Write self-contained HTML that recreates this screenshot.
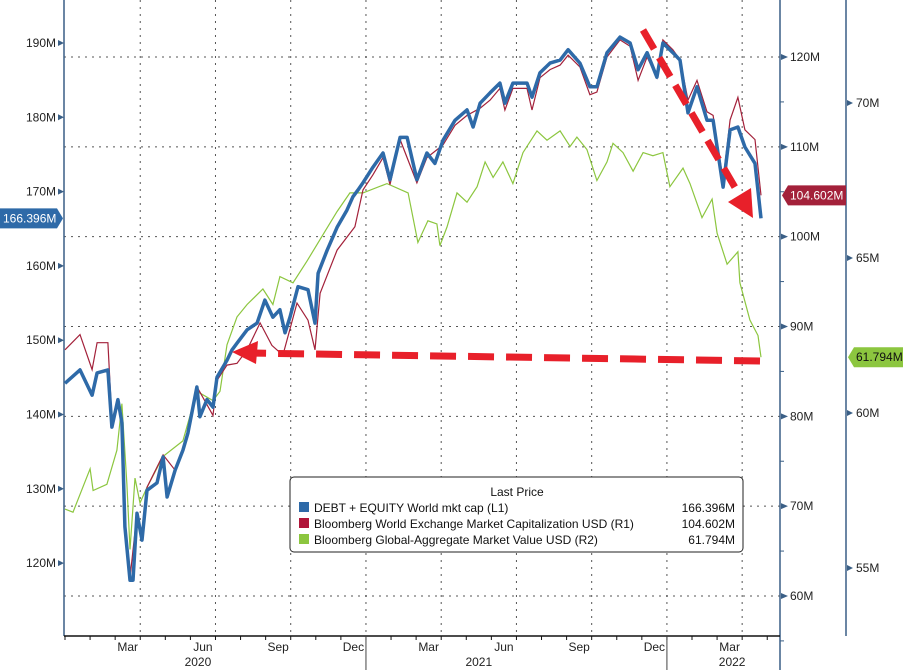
<!DOCTYPE html>
<html><head><meta charset="utf-8">
<style>
html,body{margin:0;padding:0;background:#fff;}
svg{display:block;font-family:"Liberation Sans",sans-serif;}
</style></head>
<body>
<svg id="chart" width="903" height="670" viewBox="0 0 903 670" xmlns="http://www.w3.org/2000/svg">
<g id="grid"></g>
<g id="axes"></g>
<g id="series"></g>
<g id="annot">
  <line x1="760" y1="361" x2="250" y2="353" stroke="#e8202a" stroke-width="7" stroke-dasharray="26,12"/>
  <polygon points="232,352 258,341 256,364" fill="#e8202a"/>
  <line x1="643" y1="30" x2="740" y2="196" stroke="#e8202a" stroke-width="7" stroke-dasharray="22,10"/>
  <polygon points="753,218 728,202 751,188" fill="#e8202a"/>
</g>
<g id="legend">
  <rect x="290" y="477" width="453" height="75" rx="4" fill="#fff" stroke="#222" stroke-width="1"/>
  <text x="517" y="496" font-size="12" text-anchor="middle" fill="#111">Last Price</text>
  <rect x="299" y="502" width="10" height="10" fill="#2e6aa8"/>
  <text x="314" y="512" font-size="12" fill="#111">DEBT + EQUITY World mkt cap  (L1)</text>
  <text x="735" y="512" font-size="12" text-anchor="end" fill="#111">166.396M</text>
  <rect x="299" y="518" width="10" height="10" fill="#b0163a"/>
  <text x="314" y="528" font-size="12" fill="#111">Bloomberg World Exchange Market Capitalization USD  (R1)</text>
  <text x="735" y="528" font-size="12" text-anchor="end" fill="#111">104.602M</text>
  <rect x="299" y="534" width="10" height="10" fill="#8cc63f"/>
  <text x="314" y="544" font-size="12" fill="#111">Bloomberg Global-Aggregate Market Value USD  (R2)</text>
  <text x="735" y="544" font-size="12" text-anchor="end" fill="#111">61.794M</text>
</g>
<g id="tags"></g>
</svg>
<script>
// months since Jan 1 2020
const blueM = [0,0.6,1.08,1.28,1.71,1.87,2.11,2.27,2.39,2.59,2.71,2.87,3.07,3.27,3.67,3.91,4.07,4.39,4.7,4.9,5.26,5.38,5.66,5.9,6.06,6.46,6.66,6.86,7.26,7.66,7.97,8.29,8.57,8.77,8.97,9.29,9.69,9.97,10.09,10.45,10.85,11.24,11.48,11.68,11.88,12.28,12.68,12.96,13.36,13.64,14.03,14.43,14.75,15.07,15.55,16.03,16.27,16.55,16.95,17.34,17.54,17.86,18.42,18.62,18.94,19.34,19.74,20.06,20.53,20.93,21.21,21.61,22.13,22.53,22.85,23.21,23.6,23.84,24.24,24.52,24.84,25.2,25.6,25.84,26.24,26.52,26.83,27.11,27.51,27.75];
const blueV = [144.2,146.0,142.6,145.6,146.0,138.3,142.0,138.9,124.9,117.7,117.7,126.7,123.1,129.8,130.8,134.3,128.9,132.5,135.2,137.5,143.7,139.7,142.0,141.0,145.0,147.3,148.7,149.6,151.4,152.3,155.4,153.1,154.1,151.0,153.1,157.2,156.8,152.3,159.0,162.1,165.2,167.5,169.3,170.2,171.2,173.3,175.2,171.6,177.3,177.3,171.6,175.2,173.8,176.9,179.6,181.0,178.7,181.9,183.3,184.6,181.9,184.6,184.6,182.7,186.0,187.3,187.7,189.1,187.3,184.1,184.1,188.7,190.8,190.0,186.4,188.7,185.4,190.0,188.7,187.7,180.6,184.1,179.6,179.6,170.6,178.3,178.7,176.0,173.8,166.4];
const redM = [0,0.6,1.08,1.28,1.71,1.87,2.11,2.27,2.39,2.59,2.87,3.07,3.27,3.91,4.39,4.9,5.26,5.9,6.06,6.46,6.86,7.26,7.78,8.25,8.69,9.25,9.69,9.97,10.17,10.85,11.56,11.88,12.28,12.68,12.96,13.36,14.03,14.43,15.07,15.55,16.03,16.55,16.95,17.34,17.54,17.86,18.42,18.62,18.94,19.34,19.74,20.06,20.53,20.93,21.21,21.61,22.13,22.53,22.85,23.21,23.6,23.84,24.24,24.52,24.84,25.2,25.6,25.84,26.24,26.52,26.83,27.11,27.51,27.75];
const redV = [87.4,89.1,85.2,88.2,88.2,79.6,81.8,79.3,67.7,62.0,69.2,66.2,72.1,75.7,74.0,78.1,83.3,80.1,84.0,85.7,85.9,87.4,90.4,87.9,86.8,92.6,90.7,87.4,93.7,98.5,101.1,105.2,106.9,108.8,105.8,110.8,106.0,108.8,110.2,112.4,113.5,114.3,115.2,116.5,114.1,116.5,116.5,114.1,117.7,118.6,119.1,120.2,118.9,115.8,116.1,120.0,121.9,121.2,117.4,120.0,117.7,121.9,120.8,119.7,115.2,117.4,113.9,113.5,106.3,113.0,115.5,111.9,110.8,104.6];
const greenM = [0,0.32,1.0,1.12,1.67,2.07,2.27,2.47,2.59,2.79,2.99,3.27,3.91,4.7,5.26,5.9,6.18,6.46,6.86,7.26,7.89,8.29,8.57,9.09,9.65,10.17,10.85,11.36,11.88,12.84,13.68,14.07,14.47,14.83,14.95,15.23,15.63,16.03,16.43,16.75,17.07,17.46,17.86,18.26,18.82,19.22,19.74,20.14,20.41,20.81,21.21,21.61,21.85,22.25,22.65,23.05,23.44,23.84,24.12,24.64,24.92,25.4,25.8,26.0,26.4,26.83,26.91,27.31,27.63,27.75];
const greenV = [56.9,56.8,58.2,57.5,57.7,58.8,60.3,57.7,55.6,57.9,57.1,57.6,58.6,59.1,60.7,60.4,60.7,62.2,63.1,63.5,64.0,63.5,64.4,64.2,64.9,65.6,66.5,67.1,67.1,67.4,67.1,65.5,66.2,66.1,65.4,66.0,67.1,66.8,67.3,68.1,67.6,68.1,67.4,68.4,69.1,68.8,69.1,68.6,68.9,68.5,67.5,68.1,68.7,68.4,67.8,68.4,68.3,68.4,67.3,67.9,67.4,66.3,66.9,65.8,64.8,65.2,64.2,63.0,62.5,61.8];
const leftTicks = [190,180,170,160,150,140,130,120];
const r1Ticks = [120,110,100,90,80,70,60];
const r2Ticks = [70,65,60,55];
const monthLabels = ["Mar","Jun","Sep","Dec","Mar","Jun","Sep","Dec","Mar"];
const monthLabelPos = [2.5,5.5,8.5,11.5,14.5,17.5,20.5,23.5,26.5];
const yearLabels = ["2020","2021","2022"];
const yearLabelPos = [5.3,16.5,26.6];

const NS="http://www.w3.org/2000/svg";
const X0=65, PXM=25.08, XL=64, XR=780, YB=636;
const xS = m => X0 + m*PXM;
const yL = v => 43 + (190-v)*7.43;
const yR1 = v => 57 + (120-v)*8.983;
const yR2 = v => 103 + (70-v)*31;
function mk(tag, attrs, parent){const e=document.createElementNS(NS,tag);for(const k in attrs)e.setAttribute(k,attrs[k]);parent.appendChild(e);return e;}
const grid=document.getElementById('grid'), axes=document.getElementById('axes'), series=document.getElementById('series'), tags=document.getElementById('tags');

// horizontal grid (R1 ticks)
r1Ticks.forEach(v=>{const l=mk('line',{x1:XL,x2:XR,y1:yR1(v),y2:yR1(v),stroke:'#555','stroke-width':1,'stroke-dasharray':'2,5'},grid);

});
// vertical grid quarterly
for(let q=1;q<=9;q++){const m=q*3;const l=mk('line',{x1:xS(m),x2:xS(m),y1:0,y2:YB,stroke:'#555','stroke-width':1,'stroke-dasharray':'2,5'},grid);

}

// axes lines
const axisCol='#3a5f86';
let a=mk('line',{x1:XL,x2:XL,y1:0,y2:YB,stroke:axisCol,'stroke-width':1.5},axes);


a=mk('line',{x1:XR,x2:XR,y1:0,y2:670,stroke:axisCol,'stroke-width':1.5},axes);


a=mk('line',{x1:846,x2:846,y1:0,y2:636,stroke:axisCol,'stroke-width':1.5},axes);


a=mk('line',{x1:XL,x2:XR,y1:YB,y2:YB,stroke:'#111','stroke-width':1.5},axes);



leftTicks.forEach(v=>{const y=yL(v);
const p=mk('polygon',{points:`${XL},${y} ${XL-6},${y-3} ${XL-6},${y+3}`,fill:axisCol},axes);


const t=mk('text',{x:XL-8,y:y+4,'font-size':12,'text-anchor':'end',fill:'#222'},axes);t.textContent=v+'M';

});
r1Ticks.forEach(v=>{const y=yR1(v);
const p=mk('polygon',{points:`${XR+8},${y} ${XR+1},${y-3} ${XR+1},${y+3}`,fill:axisCol},axes);


const mt=mk('line',{x1:XR,x2:XR+4,y1:yR1(v-5),y2:yR1(v-5),stroke:axisCol},axes);


const t=mk('text',{x:XR+10,y:y+4,'font-size':12,fill:'#222'},axes);t.textContent=v+'M';

});
r2Ticks.forEach(v=>{const y=yR2(v);
const p=mk('polygon',{points:`${853},${y} ${847},${y-3} ${847},${y+3}`,fill:axisCol},axes);


const t=mk('text',{x:856,y:y+4,'font-size':12,fill:'#222'},axes);t.textContent=v+'M';

});
// month ticks
for(let m=0;m<=28;m++){const tk=mk('line',{x1:xS(m),x2:xS(m),y1:YB,y2:YB+4,stroke:'#111'},axes);

}
monthLabels.forEach((s,i)=>{const t=mk('text',{x:xS(monthLabelPos[i]),y:651,'font-size':12,'text-anchor':'middle',fill:'#222'},axes);t.textContent=s;

});
yearLabels.forEach((s,i)=>{const t=mk('text',{x:xS(yearLabelPos[i]),y:666,'font-size':12,'text-anchor':'middle',fill:'#222'},axes);t.textContent=s;

});
[12,24].forEach(m=>{const l=mk('line',{x1:xS(m),x2:xS(m),y1:YB,y2:670,stroke:'#444'},axes);

});

function path(ms,vs,fy){return ms.map((m,i)=>(i?'L':'M')+xS(m).toFixed(1)+','+fy(vs[i]).toFixed(1)).join(' ');}
let s=mk('path',{d:path(greenM,greenV,yR2),fill:'none',stroke:'#8cc63f','stroke-width':1.2},series);


s=mk('path',{d:path(redM,redV,yR1),fill:'none',stroke:'#a3213a','stroke-width':1.2},series);


s=mk('path',{d:path(blueM,blueV,yL),fill:'none',stroke:'#2e6aa8','stroke-width':3.5,'stroke-linejoin':'round'},series);



// value tags
function tag(x,w,y,fill,txt,name,left){
const pts = left ? `${x},${y-10} ${x+w},${y-10} ${x+w+6},${y} ${x+w},${y+10} ${x},${y+10}` : `${x+6},${y-10} ${x+w},${y-10} ${x+w},${y+10} ${x+6},${y+10} ${x},${y}`;
const p=mk('polygon',{points:pts,fill:fill},tags);


const t=mk('text',{x:left?x+3:x+8,y:y+4,'font-size':12,fill:name==='tag-r2'?'#111':'#fff'},tags);t.textContent=txt;

}
tag(0,57,yL(blueV[blueV.length-1]),'#2e6aa8','166.396M','tag-l1',true);
tag(782,64,yR1(redV[redV.length-1]),'#a3213a','104.602M','tag-r1',false);
tag(848,55,yR2(greenV[greenV.length-1]),'#8cc63f','61.794M','tag-r2',false);
</script>
</body></html>
